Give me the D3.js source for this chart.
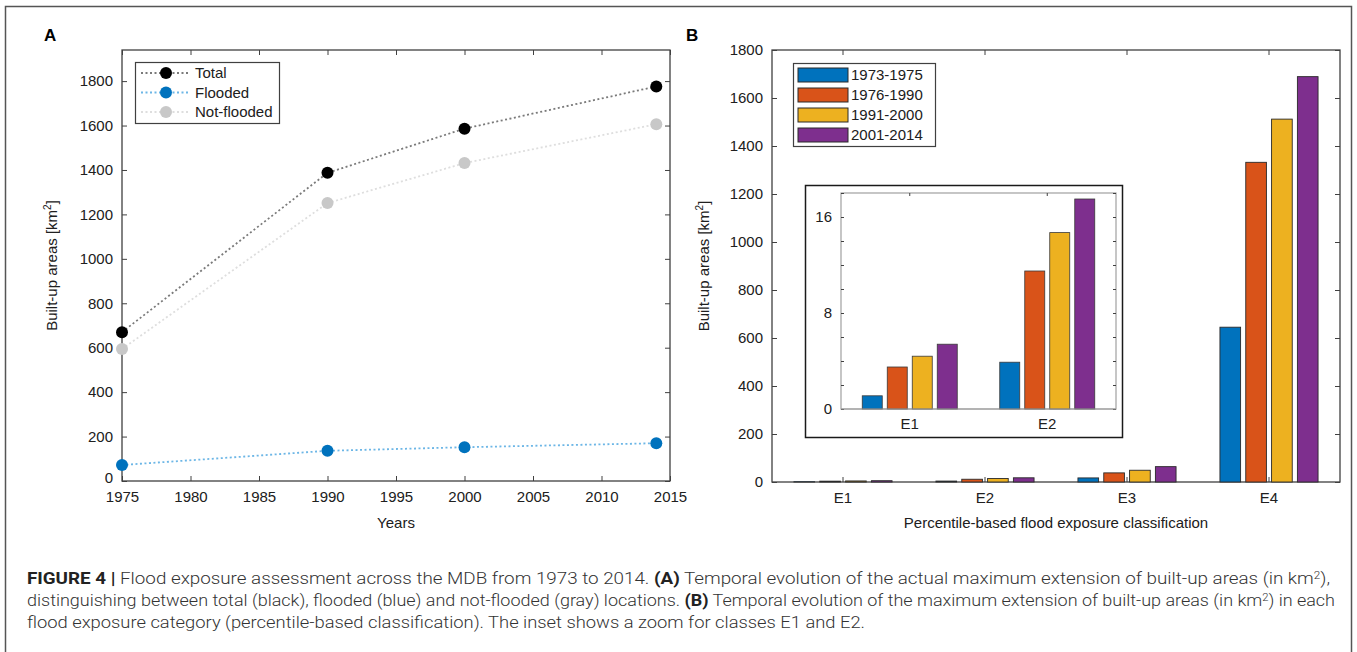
<!DOCTYPE html>
<html>
<head>
<meta charset="utf-8">
<script src="https://cdn.jsdelivr.net/npm/d3@7"></script>
<style>
  body { margin: 0; background: #fff; }
  svg { display: block; font-family: "Liberation Sans", Arial, sans-serif; }
  .tick text { fill: #202020; font-size: 15px; }
  .domain { display: none; }
  .tick line { stroke: #404040; }
</style>
</head>
<body>
<script>
// panel A data
var years = [1975, 1990, 2000, 2014];
var totalArea = [670, 1387, 1586, 1776];
var floodedArea = [72, 136, 152, 170];
var notFloodedArea = [594, 1251, 1431, 1606];
var seriesNames = ["Total", "Flooded", "Not-flooded"];
var xTicksA = [1975, 1980, 1985, 1990, 1995, 2000, 2005, 2010, 2015];
var yTicksA = [0, 200, 400, 600, 800, 1000, 1200, 1400, 1600, 1800];

// panel B data (one array per period, values for E1..E4)
var classes = ["E1", "E2", "E3", "E4"];
var periods = ["1973-1975", "1976-1990", "1991-2000", "2001-2014"];
var area7375 = [1.1, 3.9, 17, 645];
var area7690 = [3.5, 11.5, 38, 1332];
var area9100 = [4.4, 14.7, 49, 1512];
var area0114 = [5.4, 17.5, 64, 1689];
var yTicksB = [0, 200, 400, 600, 800, 1000, 1200, 1400, 1600, 1800];
var insetClasses = ["E1", "E2"];
var insetTicks = [0, 2, 4, 6, 8, 10, 12, 14, 16, 18];
var insetLabels = [0, 8, 16];

var barColors = ["#0072BD", "#D95319", "#EDB120", "#7E2F8E"];
var periodValues = [area7375, area7690, area9100, area0114];

var svg = d3.select("body").append("svg")
    .attr("width", 1357)
    .attr("height", 652);

// outer frame
svg.append("rect")
    .attr("x", 5.5).attr("y", 6.5)
    .attr("width", 1346).attr("height", 660)
    .attr("fill", "none")
    .attr("stroke", "#555")
    .attr("stroke-width", 1.5);

// ---------------- Panel A ----------------
var xA = d3.scaleLinear().domain([1975, 2015]).range([122, 670]);
var yA = d3.scaleLinear().domain([0, 1940]).range([481, 50]);

var gA = svg.append("g");

gA.append("rect")
    .attr("x", xA.range()[0]).attr("y", yA.range()[1])
    .attr("width", xA.range()[1] - xA.range()[0])
    .attr("height", yA.range()[0] - yA.range()[1])
    .attr("fill", "none").attr("stroke", "#404040").attr("stroke-width", 1.3);

gA.append("g")
    .attr("transform", `translate(0, ${yA(0)})`)
    .call(d3.axisBottom(xA).tickValues(xTicksA).tickFormat(d3.format("d")).tickSize(-5).tickPadding(10));
gA.append("g")
    .attr("transform", `translate(0, ${yA.range()[1]})`)
    .call(d3.axisTop(xA).tickValues(xTicksA).tickFormat("").tickSize(-5));
gA.append("g")
    .attr("transform", `translate(${xA.range()[0]}, 0)`)
    .call(d3.axisLeft(yA).tickValues(yTicksA).tickFormat(d3.format("d")).tickSize(-5).tickPadding(9));
gA.append("g")
    .attr("transform", `translate(${xA.range()[1]}, 0)`)
    .call(d3.axisRight(yA).tickValues(yTicksA).tickFormat("").tickSize(-5));
// lift the "0" label a little so it clears the 1975 label
gA.selectAll(".tick text").filter(d => d === 0).attr("dy", "0.1em");

var seriesA = [
    {name: seriesNames[0], values: totalArea, line: "#7a7a7a", marker: "#000000"},
    {name: seriesNames[1], values: floodedArea, line: "#6cb6e6", marker: "#0072BD"},
    {name: seriesNames[2], values: notFloodedArea, line: "#dedede", marker: "#c8c8c8"}
];

var lineA = d3.line()
    .x((d, i) => xA(years[i]))
    .y(d => yA(d));

// draw not-flooded first so total sits on top
[2, 1, 0].forEach(function(k) {
    var s = seriesA[k];
    gA.append("path")
        .attr("d", lineA(s.values))
        .attr("fill", "none")
        .attr("stroke", s.line)
        .attr("stroke-width", 1.8)
        .attr("stroke-dasharray", "2,2.5");
    gA.selectAll(null)
        .data(s.values)
        .enter()
        .append("circle")
        .attr("cx", (d, i) => xA(years[i]))
        .attr("cy", d => yA(d))
        .attr("r", 6)
        .attr("fill", s.marker);
});

// legend A
var legA = gA.append("g");
legA.append("rect")
    .attr("x", 135.5).attr("y", 62.5).attr("width", 144).attr("height", 61)
    .attr("fill", "#fff").attr("stroke", "#404040").attr("stroke-width", 1.2);
seriesA.forEach(function(s, i) {
    var yy = 73 + i * 19.5;
    legA.append("line")
        .attr("x1", 141).attr("x2", 190).attr("y1", yy).attr("y2", yy)
        .attr("stroke", s.line).attr("stroke-width", 1.8).attr("stroke-dasharray", "2,2.5");
    legA.append("circle").attr("cx", 166).attr("cy", yy).attr("r", 6).attr("fill", s.marker);
    legA.append("text")
        .attr("x", 195).attr("y", yy + 5)
        .attr("font-size", "15px").attr("fill", "#202020")
        .text(s.name);
});

gA.append("text")
    .attr("x", 44).attr("y", 41)
    .attr("font-size", "17px").attr("font-weight", "bold")
    .text("A");

gA.append("text")
    .attr("x", (xA.range()[0] + xA.range()[1]) / 2).attr("y", 528)
    .attr("text-anchor", "middle").attr("font-size", "15px").attr("fill", "#202020")
    .text("Years");

var yLabA = gA.append("text")
    .attr("transform", `translate(57, ${(yA.range()[0] + yA.range()[1]) / 2}) rotate(-90)`)
    .attr("text-anchor", "middle").attr("font-size", "15px").attr("fill", "#202020");
yLabA.append("tspan").text("Built-up areas [km");
yLabA.append("tspan").attr("font-size", "10px").attr("dy", -6).text("2");
yLabA.append("tspan").attr("dy", 6).text("]");

// ---------------- Panel B ----------------
var xB = d3.scaleBand().domain(classes).range([772, 1340]);
var yB = d3.scaleLinear().domain([0, 1800]).range([482, 50]);
var groupW = xB.bandwidth() * 4 / 5.5;
var xSub = d3.scaleBand().domain(periods).range([-groupW / 2, groupW / 2]).paddingInner(0.2).paddingOuter(0.1);

var gB = svg.append("g");

gB.append("rect")
    .attr("x", 772).attr("y", 50)
    .attr("width", 1340 - 772).attr("height", 482 - 50)
    .attr("fill", "none").attr("stroke", "#404040").attr("stroke-width", 1.3);

gB.append("g")
    .attr("transform", `translate(0, ${yB(0)})`)
    .call(d3.axisBottom(xB).tickSize(-5).tickPadding(10));
gB.append("g")
    .attr("transform", "translate(0, 50)")
    .call(d3.axisTop(xB).tickFormat("").tickSize(-5));
gB.append("g")
    .attr("transform", "translate(772, 0)")
    .call(d3.axisLeft(yB).tickValues(yTicksB).tickFormat(d3.format("d")).tickSize(-5).tickPadding(9));
gB.append("g")
    .attr("transform", "translate(1340, 0)")
    .call(d3.axisRight(yB).tickValues(yTicksB).tickFormat("").tickSize(-5));

periods.forEach(function(p, k) {
    gB.selectAll(null)
        .data(periodValues[k])
        .enter()
        .append("rect")
        .attr("x", (d, i) => xB(classes[i]) + xB.bandwidth() / 2 + xSub(p))
        .attr("y", d => yB(d))
        .attr("width", xSub.bandwidth())
        .attr("height", d => yB(0) - yB(d))
        .attr("fill", barColors[k])
        .attr("stroke", "#2a2a2a")
        .attr("stroke-width", 0.9);
});

// legend B
var legB = gB.append("g");
legB.append("rect")
    .attr("x", 793.5).attr("y", 63.5).attr("width", 142).attr("height", 83)
    .attr("fill", "#fff").attr("stroke", "#404040").attr("stroke-width", 1.2);
periods.forEach(function(p, i) {
    var yy = 75 + i * 20;
    legB.append("rect")
        .attr("x", 798).attr("y", yy - 7).attr("width", 50).attr("height", 14)
        .attr("fill", barColors[i]).attr("stroke", "#2a2a2a").attr("stroke-width", 1);
    legB.append("text")
        .attr("x", 851).attr("y", yy + 5)
        .attr("font-size", "15px").attr("fill", "#202020")
        .text(p);
});

gB.append("text")
    .attr("x", 686).attr("y", 41)
    .attr("font-size", "17px").attr("font-weight", "bold")
    .text("B");

gB.append("text")
    .attr("x", (772 + 1340) / 2).attr("y", 528)
    .attr("text-anchor", "middle").attr("font-size", "15px").attr("fill", "#202020")
    .text("Percentile-based flood exposure classification");

var yLabB = gB.append("text")
    .attr("transform", `translate(709, 266) rotate(-90)`)
    .attr("text-anchor", "middle").attr("font-size", "15px").attr("fill", "#202020");
yLabB.append("tspan").text("Built-up areas [km");
yLabB.append("tspan").attr("font-size", "10px").attr("dy", -6).text("2");
yLabB.append("tspan").attr("dy", 6).text("]");

// ---------------- Inset ----------------
var xI = d3.scaleBand().domain(insetClasses).range([841, 1116]);
var yI = d3.scaleLinear().domain([0, 18]).range([409, 193]);
var groupWI = xI.bandwidth() * 4 / 5.5;
var xSubI = d3.scaleBand().domain(periods).range([-groupWI / 2, groupWI / 2]).paddingInner(0.2).paddingOuter(0.1);

var gI = svg.append("g");
gI.append("rect")
    .attr("x", 805.5).attr("y", 185.5).attr("width", 317).attr("height", 252)
    .attr("fill", "#fff").attr("stroke", "#1a1a1a").attr("stroke-width", 1.5);

gI.append("rect")
    .attr("x", 841).attr("y", 193).attr("width", 1116 - 841).attr("height", 409 - 193)
    .attr("fill", "none").attr("stroke", "#a0a0a0").attr("stroke-width", 1.2);

gI.append("g")
    .attr("transform", "translate(841, 0)")
    .call(d3.axisLeft(yI).tickValues(insetTicks).tickSize(-3).tickPadding(9)
        .tickFormat(d => insetLabels.indexOf(d) >= 0 ? d : ""));
gI.append("g")
    .attr("transform", "translate(1116, 0)")
    .call(d3.axisRight(yI).tickValues(insetTicks).tickFormat("").tickSize(-3));
gI.append("g")
    .attr("transform", "translate(0, 409)")
    .call(d3.axisBottom(xI).tickSize(0).tickPadding(9));
gI.append("g")
    .attr("transform", "translate(0, 193)")
    .call(d3.axisTop(xI).tickFormat("").tickSize(-3));
gI.selectAll(".tick line").attr("stroke", "#8a8a8a");

periods.forEach(function(p, k) {
    gI.selectAll(null)
        .data(periodValues[k].slice(0, 2))
        .enter()
        .append("rect")
        .attr("x", (d, i) => xI(insetClasses[i]) + xI.bandwidth() / 2 + xSubI(p))
        .attr("y", d => yI(d))
        .attr("width", xSubI.bandwidth())
        .attr("height", d => yI(0) - yI(d))
        .attr("fill", barColors[k])
        .attr("stroke", "#3a3a3a")
        .attr("stroke-width", 0.8);
});
gI.append("line")
    .attr("x1", 841).attr("x2", 1116).attr("y1", 409).attr("y2", 409)
    .attr("stroke", "#a0a0a0").attr("stroke-width", 1.2);

// ---------------- Caption ----------------
var capLines = [
    [["FIGURE 4 |", true], [" Flood exposure assessment across the MDB from 1973 to 2014. ", false], ["(A)", true],
     [" Temporal evolution of the actual maximum extension of built-up areas (in km", false], ["2", "sup"], ["),", false]],
    [["distinguishing between total (black), flooded (blue) and not-flooded (gray) locations. ", false], ["(B)", true],
     [" Temporal evolution of the maximum extension of built-up areas (in km", false], ["2", "sup"], [") in each", false]],
    [["flood exposure category (percentile-based classification). The inset shows a zoom for classes E1 and E2.", false]]
];
var capWidths = [1303, 1308, 838];

capLines.forEach(function(parts, li) {
    var t = svg.append("text")
        .attr("x", 27).attr("y", 584 + li * 22)
        .attr("font-family", "Roboto, 'Liberation Sans', sans-serif")
        .attr("font-size", "16px").attr("font-weight", 300).attr("fill", "#333")
        .attr("textLength", capWidths[li])
        .attr("lengthAdjust", "spacingAndGlyphs");
    parts.forEach(function(p) {
        var sp = t.append("tspan").text(p[0]);
        if (p[1] === true) sp.attr("font-weight", "bold").attr("fill", "#222");
        if (p[1] === "sup") sp.attr("font-size", "10px").attr("baseline-shift", "super");
    });
});
</script>
</body>
</html>
